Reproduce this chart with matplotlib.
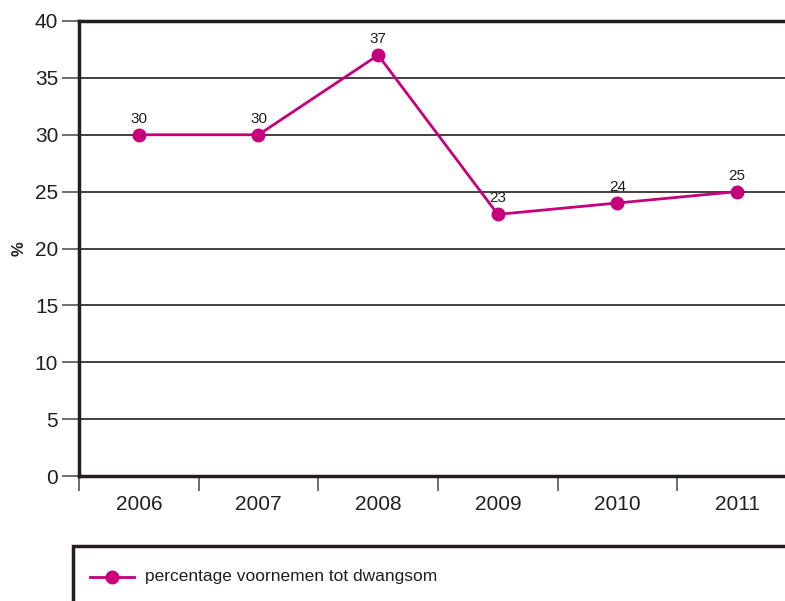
import matplotlib.pyplot as plt
from matplotlib.patches import Rectangle
from matplotlib.lines import Line2D

plt.rcParams['font.family'] = ['Liberation Sans', 'DejaVu Sans']

years = ['2006', '2007', '2008', '2009', '2010', '2011']
pct = [30, 30, 37, 23, 24, 25]
series_name = 'percentage voornemen tot dwangsom'

pink = '#c6007a'
dark = '#231f20'

fig = plt.figure(figsize=(7.85, 6.01), dpi=100)
ax = fig.add_axes([79 / 785, 1 - 476 / 601, 1 - 79 / 785, (476 - 21) / 601])

x = list(range(len(years)))
ax.plot(x, pct, color=pink, lw=2, marker='o', ms=9, zorder=3)
for xi, v in zip(x, pct):
    ax.text(xi, v + 0.8, str(v), ha='center', va='bottom', fontsize=11, color=dark)

ax.set_ylim(0, 40)
ax.set_yticks(range(0, 41, 5))
ax.set_xlim(-0.5, 5.4)
ax.set_xticks(x)
ax.set_xticklabels(years)
ax.set_xticks([i - 0.5 for i in range(len(years))], minor=True)
ax.tick_params(axis='x', which='major', length=0, pad=14, labelsize=15, colors=dark)
ax.tick_params(axis='x', which='minor', length=11, width=1.2, color='#555555')
ax.tick_params(axis='y', length=12, width=1.2, color='#555555', labelsize=15, labelcolor=dark, pad=3)

ax.grid(axis='y', color=dark, lw=1.2)
ax.set_axisbelow(True)
for s in ['left', 'bottom', 'top']:
    ax.spines[s].set_linewidth(2.5)
    ax.spines[s].set_color(dark)
ax.spines['right'].set_visible(False)

ax.set_ylabel('%', fontsize=12, fontweight='bold', color=dark, labelpad=6)

# legend box below the plot
fig.patches.append(Rectangle((73 / 785, -0.2), 1.0, 0.2 + (601 - 546) / 601,
                             transform=fig.transFigure, fill=False,
                             edgecolor=dark, lw=2.5))
fig.lines.append(Line2D([90 / 785, 134 / 785], [1 - 577 / 601] * 2, transform=fig.transFigure,
                        color=pink, lw=2))
fig.lines.append(Line2D([112 / 785], [1 - 577 / 601], transform=fig.transFigure,
                        color=pink, marker='o', ms=9, ls='none'))
fig.text(145 / 785, 1 - 577 / 601, series_name, fontsize=12.5, color=dark, va='center')

fig.savefig('out.png', dpi=100)
